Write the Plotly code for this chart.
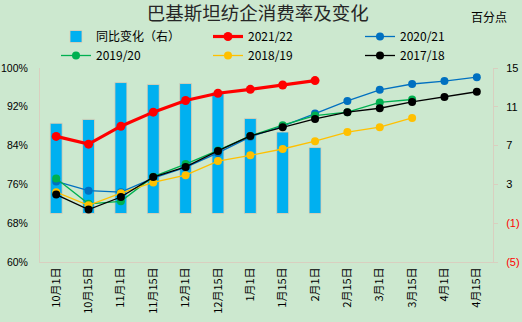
import plotly.graph_objects as go

categories = ["10月1日", "10月15日", "11月1日", "11月15日", "12月1日", "12月15日",
              "1月1日", "1月15日", "2月1日", "2月15日", "3月1日", "3月15日", "4月1日", "4月15日"]

yoy_change = [9.3, 9.7, 13.5, 13.3, 13.4, 12.5, 9.8, 8.4, 6.8]

s2021_22 = [85.9, 84.3, 88.0, 90.9, 93.3, 94.8, 95.6, 96.5, 97.4]
s2020_21 = [76.6, 74.7, 74.4, 77.3, 79.5, 82.5, 85.8, 88.0, 90.6, 93.2, 95.5, 96.7, 97.3, 98.1]
s2019_20 = [77.2, 72.0, 72.5, 77.6, 80.2, 83.0, 86.0, 88.2, 90.2, 90.9, 92.9, 93.5]
s2018_19 = [74.4, 71.7, 74.2, 76.4, 77.9, 80.8, 82.0, 83.3, 84.9, 86.8, 87.8, 89.7]
s2017_18 = [73.9, 70.8, 73.4, 77.5, 79.6, 82.9, 86.0, 87.8, 89.5, 90.9, 91.7, 93.0, 94.0, 95.1]

left_ticks = [60, 68, 76, 84, 92, 100]
left_ticktext = ["60%", "68%", "76%", "84%", "92%", "100%"]
right_ticks = [-5, -1, 3, 7, 11, 15]
right_ticktext = ['<span style="color:#FF0000">(5)</span>', '<span style="color:#FF0000">(1)</span>',
                  "3", "7", "11", "15"]

FONT = "Noto Sans CJK SC"
NUMFONT = "Liberation Sans"
BG = "#CCE8CF"
AXIS = "#D9CFC0"

fig = go.Figure()
fig.add_trace(go.Bar(x=categories[:len(yoy_change)], y=yoy_change, name="同比变化（右）",
                     marker=dict(color="#00B0F0", line=dict(color="#E8CFB0", width=0.8)),
                     width=0.37, yaxis="y"))

line_series = [
    ("2021/22", s2021_22, "#FF0000", 3.2, 9),
    ("2020/21", s2020_21, "#0070C0", 1.3, 8),
    ("2019/20", s2019_20, "#00B050", 1.3, 8),
    ("2018/19", s2018_19, "#FFC000", 1.3, 8),
    ("2017/18", s2017_18, "#000000", 1.3, 8),
]
for name, vals, col, w, ms in line_series:
    fig.add_trace(go.Scatter(x=categories[:len(vals)], y=vals, name=name, mode="lines+markers",
                             line=dict(color=col, width=w), marker=dict(color=col, size=ms),
                             yaxis="y2"))

fig.update_layout(
    width=522, height=322,
    margin=dict(l=40, r=29, t=68, b=60, autoexpand=False),
    paper_bgcolor=BG, plot_bgcolor=BG,
    font=dict(family=FONT, size=11, color="#000000"),
    title=dict(text="巴基斯坦纺企消费率及变化", x=0.494, xanchor="center", y=1 - 14 / 322, yanchor="middle",
               font=dict(size=18.5, color="#262626", family=FONT)),
    showlegend=True,
    legend=dict(orientation="h", xref="container", x=56 / 522, xanchor="left",
                yref="container", y=1 - 22 / 322, yanchor="top",
                entrywidth=107, entrywidthmode="pixels", bgcolor="rgba(0,0,0,0)",
                font=dict(size=12, family=FONT), tracegroupgap=0, itemwidth=30),
    xaxis=dict(type="category", categoryorder="array", categoryarray=categories,
               range=[-0.5, 13.5], tickangle=-90, showline=True, linecolor=AXIS, linewidth=1,
               showgrid=False, ticks="", tickfont=dict(size=11), zeroline=False),
    yaxis=dict(side="right", range=[-5, 15], tickvals=right_ticks, ticktext=right_ticktext,
               showline=True, linecolor=AXIS, linewidth=1, ticks="outside", ticklen=4,
               tickcolor=AXIS, showgrid=False, zeroline=False,
               tickfont=dict(size=11, family=NUMFONT), ticklabelstandoff=6),
    yaxis2=dict(side="left", overlaying="y", range=[60, 100], tickvals=left_ticks,
                ticktext=left_ticktext, showline=True, linecolor=AXIS, linewidth=1, ticks="",
                showgrid=False, zeroline=False, tickfont=dict(size=10.5, family=NUMFONT),
                ticklabelstandoff=9),
    bargap=0.6,
)

fig.add_annotation(text="百分点", xref="paper", yref="paper", x=(489 - 40) / 453,
                   y=1.0 + (68 - 16) / 194,
                   xanchor="center", yanchor="middle", showarrow=False,
                   font=dict(size=12, family=FONT, color="#000000"))

fig.write_html("out.html")
